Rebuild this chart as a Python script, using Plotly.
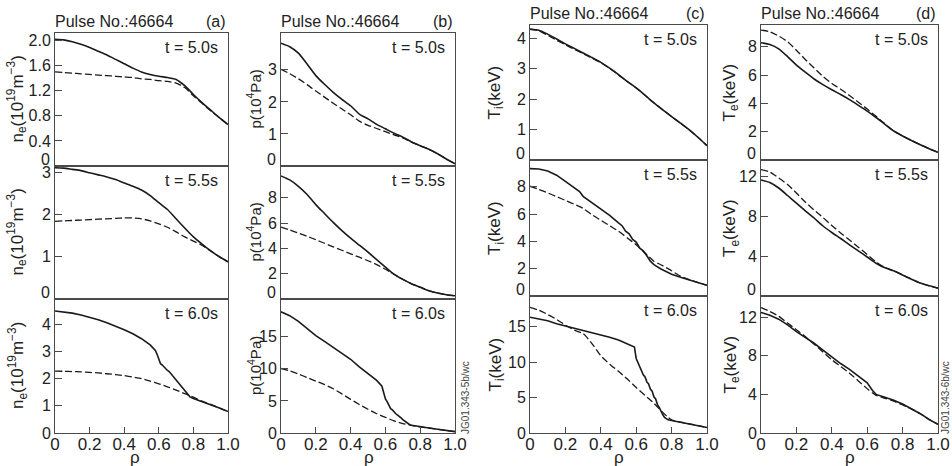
import plotly.graph_objects as go

W, H = 952, 466

# ---------------- data ----------------
rho_std = [0, 0.05, 0.1, 0.15, 0.2, 0.25, 0.3, 0.35, 0.4, 0.45, 0.5,
           0.55, 0.6, 0.65, 0.7, 0.75, 0.8, 0.85, 0.9, 0.95, 1.0]

# (a) electron density n_e (1e19 m^-3)
ne50_s = [2.02, 2.01, 1.98, 1.94, 1.89, 1.83, 1.77, 1.70, 1.63, 1.56, 1.50,
          1.46, 1.43, 1.41, 1.38, 1.28, 1.14, 1.01, 0.89, 0.77, 0.66]
ne50_d = [1.50, 1.49, 1.48, 1.47, 1.46, 1.45, 1.44, 1.43, 1.42, 1.41, 1.39,
          1.38, 1.36, 1.35, 1.32, 1.25, 1.12, 1.00, 0.88, 0.77, 0.66]
ne55_s = [3.11, 3.10, 3.07, 3.04, 2.99, 2.94, 2.89, 2.83, 2.75, 2.67, 2.58,
          2.45, 2.28, 2.12, 1.90, 1.68, 1.47, 1.30, 1.14, 1.00, 0.88]
ne55_d = [1.84, 1.85, 1.86, 1.87, 1.88, 1.89, 1.90, 1.91, 1.92, 1.92, 1.90,
          1.85, 1.78, 1.70, 1.59, 1.47, 1.37, 1.27, 1.14, 1.00, 0.88]
rho_ne60_s = [0, 0.05, 0.1, 0.15, 0.2, 0.25, 0.3, 0.35, 0.4, 0.45, 0.5, 0.55,
              0.58, 0.59, 0.6, 0.61, 0.62, 0.63, 0.64, 0.65, 0.66, 0.67, 0.68,
              0.69, 0.7, 0.71, 0.72, 0.73, 0.74, 0.75, 0.76, 0.77, 0.78, 0.8,
              0.85, 0.9, 0.95, 1.0]
ne60_s = [4.49, 4.46, 4.41, 4.34, 4.26, 4.17, 4.06, 3.94, 3.80, 3.65, 3.47, 3.24,
          3.04, 2.90, 2.72, 2.55, 2.50, 2.42, 2.38, 2.30, 2.26, 2.18, 2.12,
          2.03, 1.97, 1.88, 1.82, 1.72, 1.66, 1.57, 1.50, 1.38, 1.33, 1.27,
          1.16, 1.05, 0.92, 0.79]
ne60_d = [2.28, 2.27, 2.26, 2.25, 2.23, 2.21, 2.18, 2.15, 2.11, 2.06, 2.00,
          1.91, 1.81, 1.70, 1.58, 1.45, 1.32, 1.17, 1.05, 0.92, 0.79]

# (b) pressure p (1e4 Pa)
p50_s = [3.83, 3.72, 3.52, 3.18, 2.82, 2.55, 2.30, 2.08, 1.88, 1.62, 1.47,
         1.30, 1.16, 1.02, 0.90, 0.75, 0.63, 0.52, 0.38, 0.22, 0.07]
p50_d = [3.02, 2.88, 2.72, 2.54, 2.34, 2.15, 1.96, 1.78, 1.60, 1.40, 1.27,
         1.17, 1.07, 0.97, 0.88, 0.75, 0.63, 0.52, 0.38, 0.22, 0.07]
p55_s = [9.72, 9.40, 8.90, 8.25, 7.45, 6.75, 6.05, 5.40, 4.80, 4.25, 3.70,
         3.10, 2.52, 1.95, 1.55, 1.20, 0.93, 0.66, 0.47, 0.34, 0.25]
p55_d = [5.68, 5.45, 5.20, 4.95, 4.68, 4.40, 4.12, 3.85, 3.57, 3.30, 3.02,
         2.72, 2.35, 1.95, 1.55, 1.20, 0.93, 0.66, 0.47, 0.34, 0.25]
rho_p60_s = [0, 0.05, 0.1, 0.15, 0.2, 0.25, 0.3, 0.35, 0.4, 0.45, 0.5, 0.55,
             0.58, 0.59, 0.6, 0.61, 0.62, 0.63, 0.64, 0.65, 0.66, 0.67, 0.68,
             0.69, 0.7, 0.71, 0.72, 0.73, 0.74, 0.75, 0.77, 0.8, 0.85, 0.9,
             0.95, 1.0]
p60_s = [18.9, 18.3, 17.4, 16.3, 15.2, 14.3, 13.4, 12.5, 11.5, 10.3, 9.2, 8.2,
         7.3, 6.4, 5.3, 4.9, 4.3, 3.8, 3.6, 3.2, 3.0, 2.8, 2.5,
         2.35, 2.1, 1.9, 1.65, 1.45, 1.3, 1.2, 1.1, 0.95, 0.78, 0.58,
         0.40, 0.22]
p60_d = [10.06, 9.70, 9.20, 8.65, 8.10, 7.55, 6.90, 6.10, 5.25, 4.45, 3.70,
         3.00, 2.45, 1.88, 1.48, 1.20, 0.95, 0.78, 0.58, 0.40, 0.22]

# (c) ion temperature T_i (keV)
ti50_s = [4.30, 4.27, 4.14, 3.98, 3.82, 3.67, 3.52, 3.37, 3.21, 3.02, 2.81,
          2.58, 2.37, 2.13, 1.88, 1.65, 1.43, 1.21, 0.99, 0.74, 0.47]
ti50_d = [4.30, 4.25, 4.10, 3.94, 3.79, 3.64, 3.50, 3.35, 3.20, 3.01, 2.80,
          2.58, 2.37, 2.13, 1.88, 1.65, 1.43, 1.21, 0.99, 0.74, 0.47]
rho_ti55_s = [0, 0.05, 0.1, 0.15, 0.2, 0.25, 0.28, 0.3, 0.35, 0.4, 0.45, 0.5,
              0.52, 0.54, 0.56, 0.58, 0.6, 0.62, 0.64, 0.66, 0.68, 0.7, 0.72,
              0.74, 0.76, 0.8, 0.85, 0.9, 0.95, 1.0]
ti55_s = [9.33, 9.30, 9.15, 8.85, 8.40, 7.95, 7.65, 7.30, 6.85, 6.35, 5.90, 5.35,
          5.15, 4.75, 4.55, 4.15, 3.95, 3.50, 3.30, 2.95, 2.55, 2.30, 2.12,
          1.98, 1.85, 1.60, 1.38, 1.18, 0.98, 0.78]
ti55_d = [8.04, 7.80, 7.55, 7.28, 7.00, 6.72, 6.42, 5.95, 5.55, 5.15, 4.75,
          4.25, 3.75, 3.15, 2.55, 2.22, 1.85, 1.45, 1.20, 0.98, 0.78]
rho_ti60_s = [0, 0.05, 0.1, 0.15, 0.2, 0.25, 0.3, 0.35, 0.4, 0.45, 0.5, 0.55,
              0.58, 0.59, 0.6, 0.61, 0.62, 0.63, 0.64, 0.65, 0.66, 0.67, 0.68,
              0.69, 0.7, 0.71, 0.72, 0.73, 0.74, 0.75, 0.76, 0.77, 0.78, 0.8,
              0.85, 0.9, 0.95, 1.0]
ti60_s = [16.3, 16.1, 15.8, 15.4, 15.1, 14.7, 14.45, 14.15, 13.85, 13.5, 13.1, 12.6,
          12.2, 12.1, 10.5, 9.9, 9.3, 8.9, 8.2, 7.9, 7.2, 6.9, 6.2,
          5.9, 5.1, 4.8, 4.0, 3.6, 3.0, 2.6, 2.2, 2.0, 1.85, 1.75,
          1.52, 1.30, 1.05, 0.77]
rho_ti60_d = [0, 0.05, 0.1, 0.15, 0.2, 0.25, 0.3, 0.35, 0.4, 0.45, 0.5, 0.55,
              0.6, 0.65, 0.7, 0.75, 0.78, 0.8, 0.85, 0.9, 0.95, 1.0]
ti60_d = [17.7, 17.3, 16.7, 16.0, 15.2, 14.5, 14.0, 12.6, 10.9, 9.7, 8.7, 7.6,
          6.4, 5.3, 4.2, 2.9, 2.2, 1.85, 1.52, 1.30, 1.05, 0.77]

# (d) electron temperature T_e (keV)
te50_s = [8.28, 8.15, 7.85, 7.30, 6.70, 6.20, 5.72, 5.32, 4.96, 4.62, 4.26,
          3.86, 3.45, 3.00, 2.52, 2.05, 1.70, 1.38, 1.08, 0.80, 0.54]
te50_d = [9.17, 9.05, 8.75, 8.35, 7.75, 7.10, 6.50, 5.90, 5.40, 5.00, 4.55,
          4.08, 3.60, 3.08, 2.55, 2.05, 1.70, 1.38, 1.08, 0.80, 0.54]
te55_s = [11.6, 11.35, 10.80, 10.05, 9.28, 8.52, 7.80, 7.00, 6.35, 5.75, 5.12,
          4.52, 3.90, 3.28, 2.82, 2.52, 2.10, 1.68, 1.30, 1.02, 0.78]
te55_d = [12.64, 12.40, 11.80, 11.15, 10.30, 9.40, 8.60, 7.85, 7.05, 6.30, 5.60,
          4.88, 4.15, 3.40, 2.86, 2.52, 2.10, 1.68, 1.30, 1.02, 0.78]
rho_te60 = [0, 0.05, 0.1, 0.15, 0.2, 0.25, 0.3, 0.35, 0.4, 0.45, 0.5, 0.55,
            0.6, 0.63, 0.65, 0.7, 0.75, 0.8, 0.85, 0.9, 0.95, 1.0]
te60_s = [12.5, 12.2, 11.8, 11.2, 10.5, 9.9, 9.3, 8.6, 7.9, 7.2, 6.6, 5.9,
          5.2, 4.4, 4.0, 3.7, 3.4, 3.0, 2.5, 2.0, 1.4, 0.9]
te60_d = [13.0, 12.6, 12.1, 11.4, 10.7, 10.0, 9.2, 8.4, 7.6, 6.9, 6.2, 5.4,
          4.6, 4.15, 3.9, 3.6, 3.3, 2.9, 2.5, 2.0, 1.4, 0.9]

# tick labels
ne50_ticks = ["0", "0.4", "0.8", "1.2", "1.6", "2.0"]
ne55_ticks = ["0", "1", "2", "3"]
ne60_ticks = ["0", "1", "2", "3", "4"]
p50_ticks = ["0", "1", "2", "3"]
p55_ticks = ["0", "2", "4", "6", "8"]
p60_ticks = ["0", "5", "10", "15"]
ti50_ticks = ["0", "1", "2", "3", "4"]
ti55_ticks = ["0", "2", "4", "6", "8"]
ti60_ticks = ["0", "5", "10", "15"]
te50_ticks = ["0", "2", "4", "6", "8"]
te55_ticks = ["0", "4", "8", "12"]
te60_ticks = ["0", "4", "8", "12"]
rho_ticks = ["0", "0.2", "0.4", "0.6", "0.8", "1.0"]

times = ["t = 5.0s", "t = 5.5s", "t = 6.0s"]
pulse_label = "Pulse No.:46664"
panel_letters = ["(a)", "(b)", "(c)", "(d)"]
ytitles = ["n<sub>e</sub>(10<sup>19</sup>m<sup>−3</sup>)",
           "p(10<sup>4</sup>Pa)",
           "T<sub>i</sub>(keV)",
           "T<sub>e</sub>(keV)"]
codes = ["JG01.343-5b/wc", "JG01.343-6b/wc"]

# ---------------- layout geometry (pixels) ----------------
col_x = [(55, 228), (281, 455), (530, 707), (761, 938)]
rows_left = [(33, 166), (166, 299), (299, 433)]
rows_right = [(25, 160), (160, 296), (296, 433)]
ymax = [[2.12, 4.15, 4.44, 9.53],
        [3.15, 10.5, 9.96, 13.6],
        [4.93, 20.9, 19.3, 14.2]]
title_x = [17, 254, 496, 731]
title_size = [17, 15, 17, 17]
rho_label_x = [135, 369, 619, 850]

# (solid, dashed, ticks, solid shape)
panels = [
    [((rho_std, ne50_s), (rho_std, ne50_d), ne50_ticks, "spline"),
     ((rho_std, p50_s), (rho_std, p50_d), p50_ticks, "spline"),
     ((rho_std, ti50_s), (rho_std, ti50_d), ti50_ticks, "spline"),
     ((rho_std, te50_s), (rho_std, te50_d), te50_ticks, "spline")],
    [((rho_std, ne55_s), (rho_std, ne55_d), ne55_ticks, "spline"),
     ((rho_std, p55_s), (rho_std, p55_d), p55_ticks, "spline"),
     ((rho_ti55_s, ti55_s), (rho_std, ti55_d), ti55_ticks, "linear"),
     ((rho_std, te55_s), (rho_std, te55_d), te55_ticks, "spline")],
    [((rho_ne60_s, ne60_s), (rho_std, ne60_d), ne60_ticks, "linear"),
     ((rho_p60_s, p60_s), (rho_std, p60_d), p60_ticks, "linear"),
     ((rho_ti60_s, ti60_s), (rho_ti60_d, ti60_d), ti60_ticks, "linear"),
     ((rho_te60, te60_s), (rho_te60, te60_d), te60_ticks, "linear")],
]

FONT = "Liberation Sans, Arial, Helvetica, sans-serif"
TXT = "#222222"
AXC = "#4a4a4a"
LINEC = "#1a1a1a"


def px(x):
    return x / W


def py(y):
    return 1 - y / H


fig = go.Figure()
layout = {}
annotations = []

k = 0
for r in range(3):
    for c in range(4):
        k += 1
        sfx = "" if k == 1 else str(k)
        x0, x1 = col_x[c]
        y0, y1 = (rows_left if c < 2 else rows_right)[r]
        (sx, sy), (dx, dy), yt, sshape = panels[r][c]
        yvals = [float(t) for t in yt]
        ytext = list(yt)
        if r < 2:
            ytext[0] = ""  # zero label drawn slightly raised as annotation

        fig.add_trace(go.Scatter(x=dx, y=dy, mode="lines", xaxis="x" + sfx, yaxis="y" + sfx,
                                 line=dict(color=LINEC, width=1.3, dash="7px,3px",
                                           shape="spline", smoothing=0.6),
                                 showlegend=False, hoverinfo="skip"))
        fig.add_trace(go.Scatter(x=sx, y=sy, mode="lines", xaxis="x" + sfx, yaxis="y" + sfx,
                                 line=dict(color=LINEC, width=1.6, shape=sshape,
                                           smoothing=0.6 if sshape == "spline" else None),
                                 showlegend=False, hoverinfo="skip"))

        bottom = (r == 2)
        layout["xaxis" + sfx] = dict(
            domain=[px(x0), px(x1)], anchor="y" + sfx, range=[0, 1],
            automargin=False,
            showline=True, mirror=True, linecolor=AXC, linewidth=1,
            showgrid=False, zeroline=False,
            ticks="inside" if bottom else "", ticklen=6, tickcolor=AXC,
            tickvals=[0, 0.2, 0.4, 0.6, 0.8, 1.0], ticktext=rho_ticks,
            showticklabels=bottom, ticklabelstandoff=-4,
            tickfont=dict(family=FONT, size=17, color=TXT),
            fixedrange=True,
        )
        layout["yaxis" + sfx] = dict(
            domain=[py(y1), py(y0)], anchor="x" + sfx, range=[0, ymax[r][c]],
            automargin=False,
            showline=True, mirror=True, linecolor=AXC, linewidth=1,
            showgrid=False, zeroline=False,
            ticks="inside", ticklen=7, tickcolor=AXC,
            tickvals=yvals, ticktext=ytext,
            tickfont=dict(family=FONT, size=16, color=TXT),
            fixedrange=True,
        )

        if r < 2:
            annotations.append(dict(
                x=px(x0 - 3), y=py(y1 - 7), xref="paper", yref="paper",
                text=yt[0], showarrow=False, xanchor="right", yanchor="middle",
                font=dict(family=FONT, size=16, color=TXT)))

        # time label
        annotations.append(dict(
            x=px(x1 - 8), y=py(y0 + 14), xref="paper", yref="paper",
            text=times[r], showarrow=False, xanchor="right", yanchor="middle",
            font=dict(family=FONT, size=16, color=TXT)))
        # y-axis title
        annotations.append(dict(
            x=px(title_x[c]), y=py((y0 + y1) / 2), xref="paper", yref="paper",
            text=ytitles[c], showarrow=False, textangle=-90,
            xanchor="center", yanchor="middle",
            font=dict(family=FONT, size=title_size[c], color=TXT)))

# column headers and rho labels
for c in range(4):
    x0, x1 = col_x[c]
    hy = 22 if c < 2 else 13
    annotations.append(dict(
        x=px(x0 - 2), y=py(hy), xref="paper", yref="paper", text=pulse_label,
        showarrow=False, xanchor="left", yanchor="middle",
        font=dict(family=FONT, size=16, color=TXT)))
    annotations.append(dict(
        x=px(x1), y=py(hy), xref="paper", yref="paper", text=panel_letters[c],
        showarrow=False, xanchor="right", yanchor="middle",
        font=dict(family=FONT, size=16, color=TXT)))
    annotations.append(dict(
        x=px(rho_label_x[c]), y=py(457), xref="paper", yref="paper", text="ρ",
        showarrow=False, xanchor="center", yanchor="middle",
        font=dict(family=FONT, size=17, color=TXT)))

# figure codes
for i, cx in enumerate([465, 945]):
    annotations.append(dict(
        x=px(cx), y=py(398), xref="paper", yref="paper", text=codes[i],
        showarrow=False, textangle=-90, xanchor="center", yanchor="middle",
        font=dict(family=FONT, size=10, color="#444444")))

fig.update_layout(
    template="none",
    width=W, height=H,
    margin=dict(l=0, r=0, t=0, b=0, pad=0, autoexpand=False),
    paper_bgcolor="white", plot_bgcolor="white",
    showlegend=False,
    annotations=annotations,
    **layout,
)

fig.write_html("out.html", config={"displayModeBar": False})
